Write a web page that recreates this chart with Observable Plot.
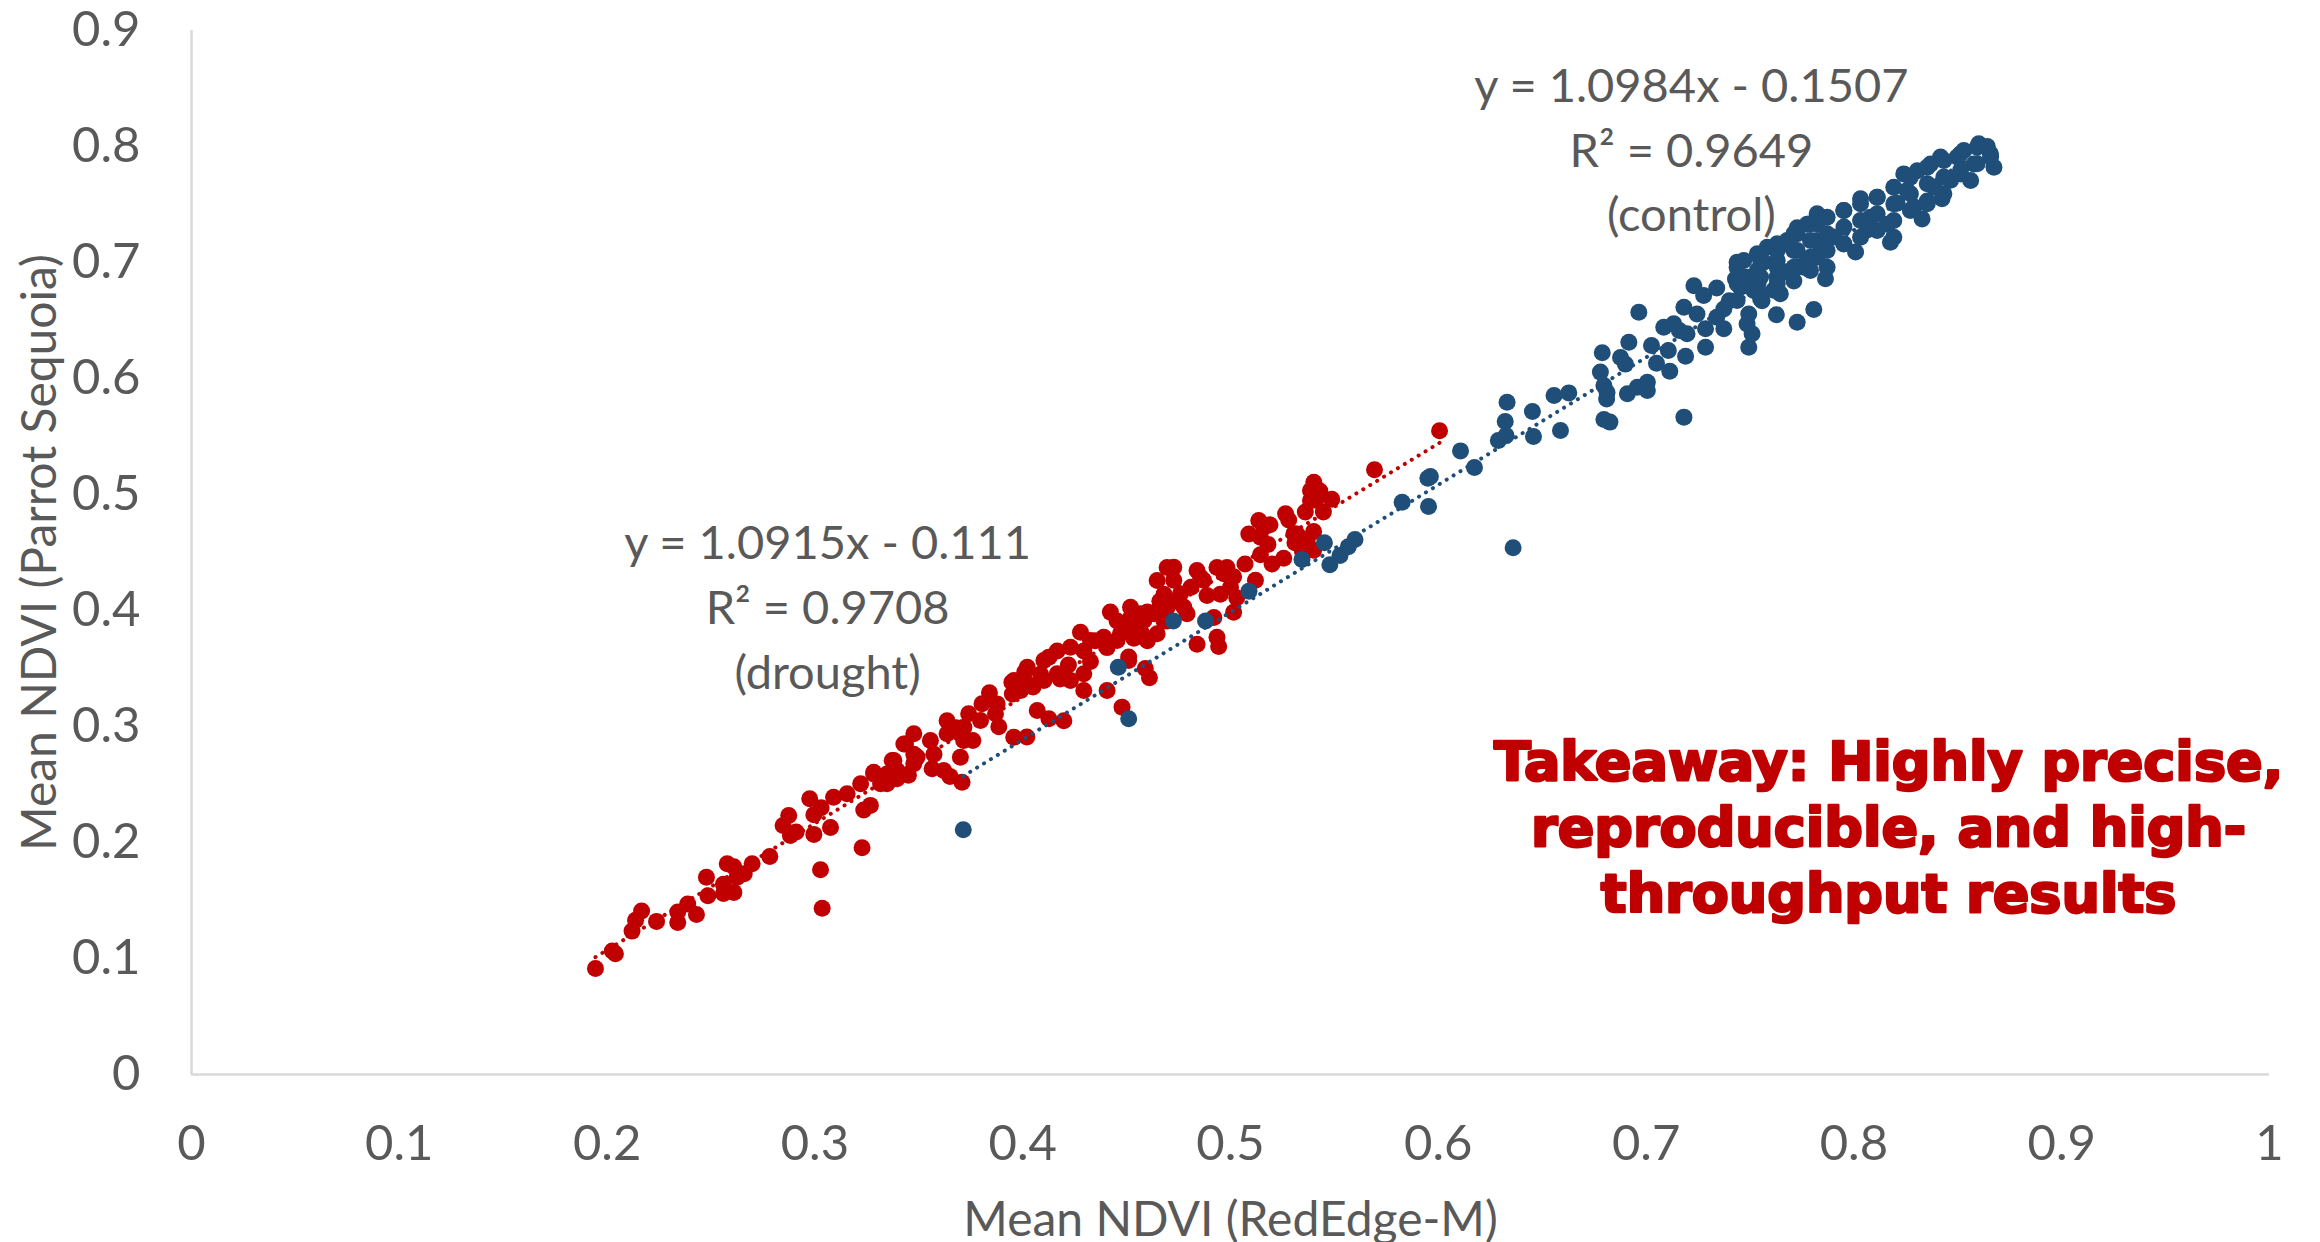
<!DOCTYPE html>
<html>
<head>
<meta charset="utf-8">
<script src="https://cdn.jsdelivr.net/npm/d3@7"></script>
<script src="https://cdn.jsdelivr.net/npm/@observablehq/plot@0.6"></script>
<style>
html, body { margin: 0; padding: 0; background: #ffffff; overflow: hidden; }
#chart svg { display: block; }
</style>
</head>
<body>
<div id="chart"></div>
<script>
// ---------- Data ----------
const droughtPoints = [
  [0.1944,0.0914],[0.204,0.104],[0.2025,0.1065],[0.212,0.1236],[0.2137,0.133],[0.2166,0.141],[0.2238,0.132],[0.234,0.131],
  [0.234,0.140],[0.2388,0.147],[0.243,0.138],[0.2478,0.170],[0.2485,0.154],[0.256,0.156],[0.256,0.164],[0.2578,0.1816],
  [0.261,0.179],[0.2626,0.170],[0.266,0.173],[0.261,0.157],[0.2698,0.1816],[0.2783,0.188],[0.2847,0.2147],[0.2874,0.2233],
  [0.2882,0.206],[0.291,0.209],[0.2975,0.2377],[0.2995,0.224],[0.2995,0.207],[0.303,0.230],[0.3075,0.213],[0.3027,0.1765],
  [0.3035,0.1434],[0.3227,0.1954],[0.3235,0.228],[0.3267,0.232],[0.309,0.239],[0.3155,0.242],[0.322,0.2506],[0.3283,0.2606],
  [0.3347,0.2506],[0.338,0.2707],[0.3395,0.255],[0.3436,0.285],[0.3476,0.2937],[0.345,0.258],[0.3476,0.268],
  [0.3283,0.259],[0.3347,0.259],[0.3372,0.2707],[0.3428,0.285],[0.3476,0.276],[0.3556,0.288],[0.3573,0.276],[0.3564,0.2635],
  [0.362,0.262],[0.365,0.257],[0.3708,0.252],[0.3636,0.305],[0.368,0.299],[0.370,0.2735],[0.3716,0.288],[0.374,0.3109],
  [0.376,0.288],[0.3804,0.3196],[0.384,0.329],[0.3869,0.311],[0.3885,0.2997],[0.3948,0.3382],[0.395,0.328],[0.3957,0.2908],
  [0.401,0.347],[0.402,0.291],[0.399,0.331],[0.405,0.334],[0.407,0.3138],[0.4086,0.345],[0.4126,0.3066],[0.4126,0.3598],
  [0.4166,0.365],[0.4198,0.305],[0.418,0.341],[0.422,0.353],[0.4278,0.3813],[0.4294,0.365],[0.4294,0.331],[0.4326,0.356],
  [0.435,0.374],[0.4406,0.368],[0.4406,0.331],[0.4422,0.3986],[0.4454,0.391],[0.4478,0.3167],[0.451,0.357],[0.452,0.391],
  [0.4535,0.376],[0.458,0.378],[0.459,0.350],[0.461,0.342],[0.460,0.3986],[0.4647,0.4259],[0.468,0.414],[0.468,0.391],
  [0.4695,0.437],
  [0.4166,0.3454],[0.4230,0.3397],[0.4102,0.3397],[0.4022,0.3368],[0.4294,0.3454],[0.4326,0.3741],[0.4486,0.3828],[0.4583,0.3914],
  [0.4390,0.3770],[0.3877,0.3195],[0.3797,0.3052],[0.3717,0.2994],[0.3636,0.2937],[0.3492,0.2736],[0.3396,0.2621],[0.3316,0.2506],
  [0.4230,0.3684],[0.4102,0.3569],[0.4022,0.3511],[0.3958,0.3397],[0.4454,0.3741],[0.4519,0.4029],[0.4663,0.4029],[0.4647,0.3799],
  [0.447,0.380],[0.452,0.394],[0.451,0.360],[0.457,0.381],[0.46,0.374],[0.466,0.408],[0.4695,0.391],[0.4727,0.4373],
  [0.4727,0.426],[0.474,0.408],[0.4775,0.403],[0.481,0.420],[0.4839,0.4345],[0.4839,0.371],[0.487,0.426],[0.4887,0.413],
  [0.492,0.394],[0.4935,0.377],[0.4943,0.369],[0.4935,0.437],[0.4951,0.414],[0.4983,0.437],[0.5015,0.429],[0.503,0.411],
  [0.5015,0.3985],[0.507,0.440],[0.5088,0.466],[0.512,0.426],[0.5136,0.4776],[0.5144,0.448],[0.518,0.457],[0.519,0.474],
  [0.52,0.440],[0.5265,0.4833],[0.528,0.478],[0.5256,0.445],[0.531,0.4585],[0.532,0.466],[0.5345,0.452],[0.536,0.485],
  [0.5385,0.5034],[0.5401,0.5106],[0.543,0.503],[0.540,0.468],[0.540,0.452],[0.5410,0.495],[0.5447,0.485],[0.5487,0.496],
  [0.5693,0.5213],[0.6006,0.555],
  [0.4535,0.3828],[0.4631,0.3971],[0.4695,0.4029],[0.4759,0.4144],[0.4791,0.3971],[0.4856,0.4287],[0.4968,0.4316],[0.5000,0.4201],
  [0.5144,0.4632],[0.5160,0.4718],[0.5305,0.4661],[0.5369,0.4603],[0.5385,0.4948],[0.4487,0.3828],[0.4567,0.3971]
];

const controlPoints = [
  [0.3714,0.211],[0.451,0.3066],[0.446,0.351],[0.4725,0.391],[0.488,0.391],[0.5089,0.4167],[0.5344,0.444],[0.5452,0.4584],
  [0.5478,0.4394],[0.5527,0.4475],[0.5567,0.455],[0.5599,0.4612],[0.5826,0.4934],[0.5953,0.4897],[0.5950,0.5140],[0.5962,0.5155],
  [0.6107,0.5376],[0.6174,0.5232],[0.636,0.454],[0.6289,0.5466],[0.6326,0.5509],[0.6322,0.563],[0.6331,0.5796],[0.6453,0.5716],
  [0.6458,0.550],[0.6557,0.5853],[0.6588,0.5552],[0.6628,0.5876],
  [0.6789,0.6221],[0.678,0.6055],[0.6797,0.594],[0.6812,0.588],[0.681,0.5823],[0.6797,0.5647],[0.6826,0.5624],[0.6877,0.6181],
  [0.690,0.6124],[0.6917,0.6313],[0.691,0.5868],[0.6958,0.5925],[0.7006,0.5968],[0.7006,0.5897],[0.6965,0.6572],[0.7026,0.6284],
  [0.705,0.6132],[0.7107,0.6241],[0.7114,0.6063],[0.7085,0.6442],[0.7133,0.6471],[0.7182,0.5667],[0.719,0.6192],[0.716,0.6413],
  [0.7197,0.6385],[0.7182,0.6615],[0.723,0.680],[0.7277,0.6715],[0.7245,0.6557],[0.7286,0.627],[0.7286,0.6428],[0.734,0.6528],
  [0.734,0.678],[0.7374,0.6428],[0.740,0.667],[0.7374,0.660],[0.7438,0.7003],[0.743,0.6858],[0.7470,0.7017],[0.7454,0.6787],
  [0.7494,0.6557],[0.7494,0.627],[0.7486,0.647],[0.751,0.6385],[0.7486,0.6873],[0.7518,0.6758],[0.7558,0.667],[0.7566,0.7003],
  [0.7583,0.7132],[0.7627,0.655],[0.7614,0.676],[0.7663,0.692],[0.7679,0.719],[0.7727,0.6485],[0.7807,0.6595],[0.7727,0.730],
  [0.7775,0.702],[0.7823,0.7420],[0.7855,0.719],[0.7863,0.686],[0.7711,0.684],[0.7646,0.673],
  [0.7438,0.696],[0.7438,0.6816],[0.7438,0.6672],[0.7535,0.7075],[0.7535,0.6931],[0.7535,0.6787],[0.7631,0.7161],[0.7631,0.7017],
  [0.7631,0.6874],[0.7631,0.6759],[0.7727,0.7247],[0.7727,0.7103],[0.7727,0.696],[0.7823,0.7333],[0.7823,0.719],[0.7823,0.7046],
  [0.7551,0.6686],[0.7775,0.733],[0.7679,0.716],[0.7759,0.696],[0.7839,0.710],[0.7903,0.722],[0.7951,0.7448],[0.7951,0.716],
  [0.8008,0.709],[0.8032,0.7549],[0.8064,0.728],[0.8112,0.7563],[0.808,0.739],[0.8176,0.7175],[0.816,0.733],[0.8208,0.751],
  [0.824,0.7764],[0.8256,0.762],[0.8305,0.779],[0.8328,0.7376],[0.8289,0.748],[0.8369,0.785],[0.8385,0.765],[0.8417,0.791],
  [0.8424,0.755],[0.8465,0.771],[0.8497,0.7909],[0.8529,0.7966],[0.8562,0.7707],[0.8578,0.785],[0.8601,0.8023],[0.8642,0.800],
  [0.8674,0.7822],[0.8658,0.791],[0.8513,0.7764],[0.8353,0.753],
  [0.7551,0.7017],[0.7551,0.6874],[0.7551,0.6730],[0.7631,0.7103],[0.7631,0.6960],[0.7631,0.6816],[0.7711,0.7247],[0.7711,0.7103],
  [0.7711,0.6960],[0.7791,0.7333],[0.7791,0.7190],[0.7791,0.7046],[0.7791,0.6931],[0.7871,0.7391],[0.7871,0.7247],[0.7871,0.7103],
  [0.7871,0.6960],[0.7952,0.7448],[0.7952,0.7305],[0.7952,0.7161],[0.8032,0.7506],[0.8032,0.7362],[0.8032,0.7218],[0.8112,0.7563],
  [0.8112,0.7420],[0.8112,0.7276],[0.8192,0.7649],[0.8192,0.7506],[0.8192,0.7362],[0.8192,0.7218],[0.8272,0.7736],[0.8272,0.7592],
  [0.8272,0.7448],[0.8353,0.7822],[0.8353,0.7678],[0.8353,0.7506],[0.8433,0.7879],[0.8433,0.7736],[0.8433,0.7592],[0.8513,0.7937],
  [0.8513,0.7793],[0.8593,0.7994],[0.8593,0.7851],[0.8657,0.7937]
];

// Trendline coefficients as printed on the chart
const fitSlopes = [1.0915, 1.0984];       // drought, control
const fitIntercepts = [-0.111, -0.1507];

const xTicks = [0, 0.1, 0.2, 0.3, 0.4, 0.5, 0.6, 0.7, 0.8, 0.9, 1];
const xTickLabels = ["0","0.1","0.2","0.3","0.4","0.5","0.6","0.7","0.8","0.9","1"];
const yTicks = [0, 0.1, 0.2, 0.3, 0.4, 0.5, 0.6, 0.7, 0.8, 0.9];
const yTickLabels = ["0","0.1","0.2","0.3","0.4","0.5","0.6","0.7","0.8","0.9"];

const xTitle = "Mean NDVI (RedEdge-M)";
const yTitle = "Mean NDVI (Parrot Sequoia)";
const droughtLabel = ["y = 1.0915x - 0.111", "R² = 0.9708", "(drought)"];
const controlLabel = ["y = 1.0984x - 0.1507", "R² = 0.9649", "(control)"];
const takeawayLines = ["Takeaway: Highly precise,", "reproducible, and high-", "throughput results"];

// ---------- Build ----------
const RED = "#C00000", BLUE = "#1F4E79", GRAY = "#595959", AXIS = "#D9D9D9";

function fitLine(points, k) {
  const [x0, x1] = d3.extent(points, d => d[0]);
  return [x0, x1].map(x => ({x, y: fitSlopes[k] * x + fitIntercepts[k]}));
}
const droughtFit = fitLine(droughtPoints, 0);
const controlFit = fitLine(controlPoints, 1);

const chart = Plot.plot({
  width: 2320,
  height: 1242,
  marginLeft: 191,
  marginRight: 51,
  marginTop: 30,
  marginBottom: 168,
  style: {fontFamily: "Lato, 'Open Sans', sans-serif", background: "#ffffff", overflow: "visible"},
  x: {domain: [0, 1], label: null},
  y: {domain: [0, 0.9], label: null},
  marks: [
    Plot.ruleX([0], {stroke: AXIS, strokeWidth: 2.5}),
    Plot.ruleY([0], {stroke: AXIS, strokeWidth: 2.5}),
    Plot.axisX({ticks: xTicks, tickSize: 0, tickPadding: 51, fontSize: 49, fill: GRAY, label: null,
      tickFormat: d => xTickLabels[xTicks.indexOf(d)]}),
    Plot.axisY({ticks: yTicks, tickSize: 0, tickPadding: 51, fontSize: 49, fill: GRAY, label: null,
      tickFormat: d => yTickLabels[yTicks.indexOf(d)]}),
    Plot.dot(droughtPoints, {x: d => d[0], y: d => d[1], r: 8.5, fill: RED}),
    Plot.dot(controlPoints, {x: d => d[0], y: d => d[1], r: 8.5, fill: BLUE}),
    Plot.line(droughtFit, {x: "x", y: "y", stroke: RED, strokeWidth: 4, strokeDasharray: "0.1 8", strokeLinecap: "round"}),
    Plot.line(controlFit, {x: "x", y: "y", stroke: BLUE, strokeWidth: 4, strokeDasharray: "0.1 8", strokeLinecap: "round"}),
    Plot.text([droughtLabel.join("\n")], {x: 0.3061, y: 0.4064, text: d => d, fontSize: 47, fill: GRAY,
      textAnchor: "middle", lineAnchor: "middle", lineHeight: 1.383}),
    Plot.text([controlLabel.join("\n")], {x: 0.7218, y: 0.8007, text: d => d, fontSize: 47, fill: GRAY,
      textAnchor: "middle", lineAnchor: "middle", lineHeight: 1.383}),
    Plot.text([takeawayLines.join("\n")], {x: 0.8167, y: 0.2155, text: d => d, fontSize: 54, fill: RED,
      stroke: RED, strokeWidth: 2.6, strokeLinejoin: "round", fontWeight: "bold", fontFamily: "'DejaVu Sans', sans-serif",
      textAnchor: "middle", lineAnchor: "middle", lineHeight: 1.222}),
    Plot.text([xTitle], {text: d => d, frameAnchor: "bottom", dy: 146, fontSize: 48, fill: GRAY,
      textAnchor: "middle", lineAnchor: "middle"}),
    Plot.text([yTitle], {text: d => d, frameAnchor: "left", dx: -151, rotate: -90, fontSize: 48, fill: GRAY,
      textAnchor: "middle", lineAnchor: "middle"})
  ]
});
document.getElementById("chart").appendChild(chart);
</script>
</body>
</html>
